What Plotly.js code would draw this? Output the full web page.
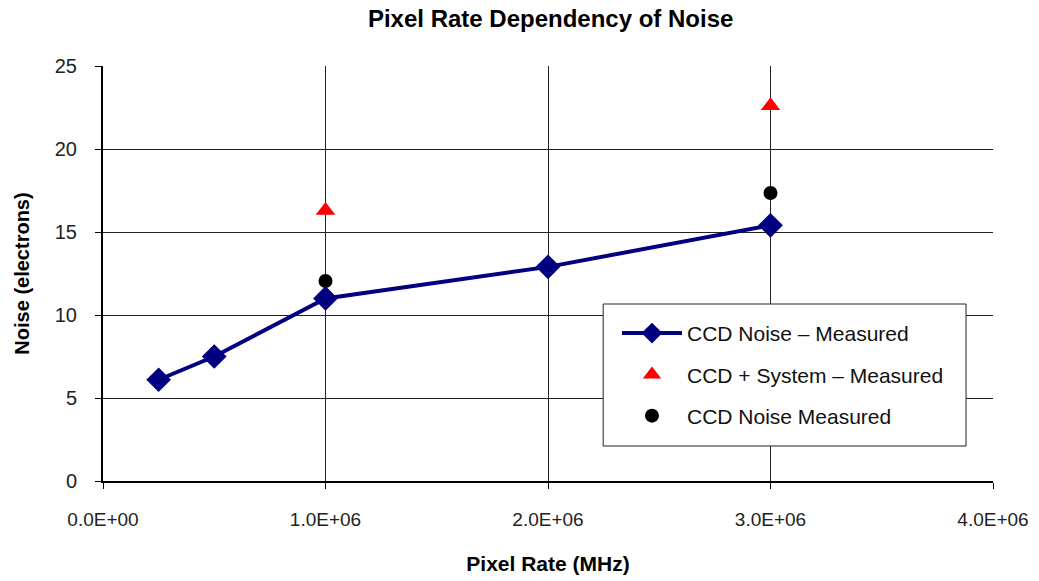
<!DOCTYPE html>
<html><head><meta charset="utf-8">
<script src="https://cdn.plot.ly/plotly-3.0.1.min.js"></script>
<style>html,body{margin:0;padding:0;background:#fff}#chart{width:1039px;height:581px}</style>
</head><body><div id="chart"></div>
<script>
const rateLine = [250000, 500000, 1000000, 2000000, 3000000];
const noiseLine = [6.1, 7.5, 11.0, 12.9, 15.4];
const rateSys = [1000000, 3000000];
const noiseSys = [16.3, 22.6];
const rateCcd = [1000000, 3000000];
const noiseCcd = [12.05, 17.35];
const xTickVals = [0, 1000000, 2000000, 3000000, 4000000];
const xTickText = ['0.0E+00', '1.0E+06', '2.0E+06', '3.0E+06', '4.0E+06'];
const yTickVals = [0, 5, 10, 15, 20, 25];

const traces = [
  {x: rateLine, y: noiseLine, name: 'CCD Noise \u2013 Measured', mode: 'lines+markers',
   legendgroup: 'a',
   line: {color: '#000080', width: 4}, marker: {symbol: 'diamond', size: 19, color: '#000080'}},
  {x: rateSys, y: noiseSys, name: 'CCD + System \u2013 Measured', mode: 'markers',
   legendgroup: 'b',
   marker: {symbol: 'triangle-up', size: 17, color: '#ff0000'}},
  {x: rateCcd, y: noiseCcd, name: 'CCD Noise Measured', mode: 'markers',
   legendgroup: 'c',
   marker: {symbol: 'circle', size: 14, color: '#000000'}}
];

const layout = {
  width: 1039, height: 581,
  margin: {l: 103, r: 46, t: 66, b: 100},
  paper_bgcolor: '#fff', plot_bgcolor: '#fff',
  font: {family: 'Arial, "Liberation Sans", sans-serif', color: '#000'},
  title: {text: '<b>Pixel Rate Dependency of Noise</b>', x: 0.53, xanchor: 'center', y: 0.968, yanchor: 'middle',
          font: {size: 24, color: '#000'}},
  xaxis: {range: [0, 4000000], tickvals: xTickVals, ticktext: xTickText,
          showgrid: true, gridcolor: '#222', gridwidth: 1,
          showline: true, linecolor: '#000', linewidth: 2, mirror: false,
          ticks: 'outside', ticklen: 6, tickcolor: '#000', zeroline: false,
          tickfont: {size: 19, color: '#222'}, ticklabelstandoff: 14,
          title: {text: '<b>Pixel Rate (MHz)</b>', font: {size: 21, color: '#000'}, standoff: 28}},
  yaxis: {range: [0, 25], tickvals: yTickVals,
          showgrid: true, gridcolor: '#222', gridwidth: 1,
          showline: true, linecolor: '#000', linewidth: 2,
          ticks: 'outside', ticklen: 6, tickcolor: '#000', zeroline: false,
          tickfont: {size: 20, color: '#222'}, ticklabelstandoff: 14,
          title: {text: '<b>Noise (electrons)</b>', font: {size: 20, color: '#000'}, standoff: 20}},
  shapes: [{type: 'rect', xref: 'paper', yref: 'paper', layer: 'above',
            x0: 0.562, x1: 0.9697, y0: 0.0843, y1: 0.4265,
            fillcolor: '#fff', line: {color: '#222', width: 1}}],
  showlegend: true,
  legend: {x: 0.5775, y: 0.405, xanchor: 'left', yanchor: 'top',
           bgcolor: 'rgba(0,0,0,0)', borderwidth: 0,
           font: {size: 21, color: '#111'}, tracegroupgap: 11, itemwidth: 60}
};
Plotly.newPlot('chart', traces, layout, {displayModeBar: false});
</script>
</body></html>
